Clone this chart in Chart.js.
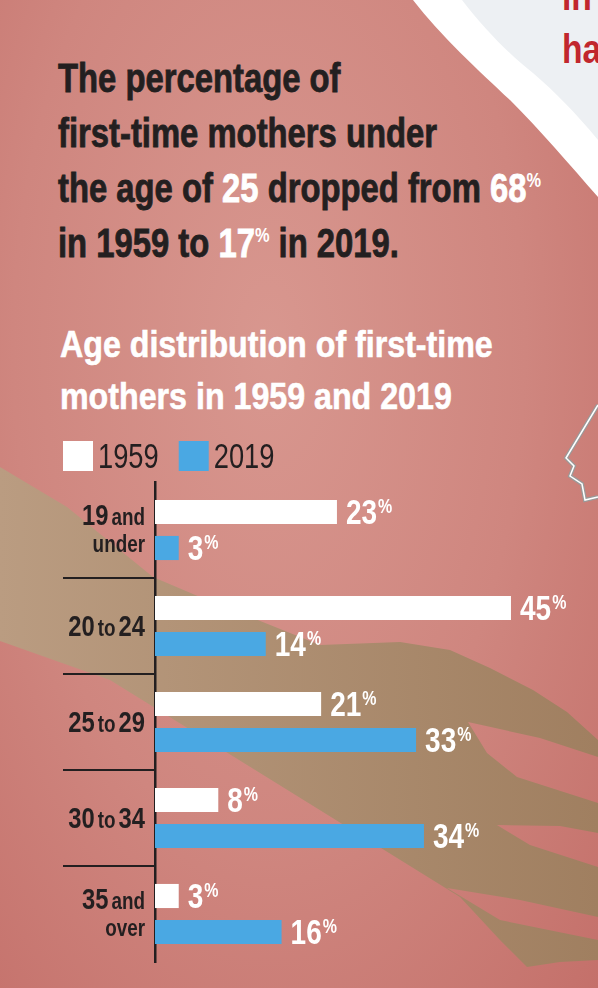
<!DOCTYPE html>
<html>
<head>
<meta charset="utf-8">
<script src="https://cdn.jsdelivr.net/npm/chart.js@4.4.1/dist/chart.umd.min.js"></script>
<style>
  html, body { margin: 0; padding: 0; }
  body {
    width: 598px; height: 988px; overflow: hidden; position: relative;
    font-family: "Liberation Sans", Arial, sans-serif;
    background: radial-gradient(ellipse at 45% 35%, #d8978f 0%, #cf867f 55%, #c4706a 100%);
  }
  #bg { position: absolute; left: 0; top: 0; }
  .narrow { transform-origin: 0 0; white-space: nowrap; }
  .headline {
    position: absolute; left: 58px; top: 51px; margin: 0;
    font-size: 40px; line-height: 55px; font-weight: bold; color: #231f20;
    -webkit-text-stroke: 0.8px #231f20;
    transform: scaleX(0.82);
  }
  .subtitle {
    position: absolute; left: 60px; top: 319px; margin: 0;
    font-size: 37px; line-height: 52px; font-weight: bold; color: #fff;
    -webkit-text-stroke: 0.6px #fff;
    transform: scaleX(0.87);
  }
  .hl { color: #fff; -webkit-text-stroke: 0.8px #fff; }
  .pct { font-size: 20px; line-height: 0; position: relative; top: -15px; -webkit-text-stroke: 0; }
  .corner {
    position: absolute; left: 562px; top: -30px; margin: 0;
    font-size: 41px; line-height: 53px; font-weight: bold; color: #c1272d;
    transform: scaleX(0.82);
  }
  #wrap { position: absolute; left: 0; top: 423px; width: 598px; height: 565px; }
</style>
</head>
<body>
<svg id="bg" width="598" height="988" viewBox="0 0 598 988">
  <defs>
    <linearGradient id="skin" x1="0" y1="0" x2="1" y2="0">
      <stop offset="0" stop-color="#ba9c81"/>
      <stop offset="1" stop-color="#a07f60"/>
    </linearGradient>
  </defs>
  <path fill="url(#skin)" d="M0,467 L67,507 L153,577 L200,597 L320,645 L400,642 L450,650 L490,668 L533,690 L567,712 L598,740
    L598,757 L540,738 L468,722 L487,753 L517,777 L598,803
    L598,833 L560,826 L497,825 L530,845 L598,867
    L598,917 L520,900 L447,888 L500,920 L598,940
    L598,960 L560,962 L527,967 L500,940 L460,897 L110,680 L0,641 Z"/>
  <path fill="#ffffff" d="M413,0 C440,35 480,72 510,100 C540,130 570,165 598,197 L598,0 Z"/>
  <path fill="#edf0f3" d="M462,0 C485,30 510,55 533,73 C555,92 575,112 598,140 L598,0 Z"/>
  <polyline fill="none" stroke="#9a9a9a" stroke-width="4" points="598,405 566,458 574,466 570,476 582,484 585,500 598,497"/>
  <polyline fill="none" stroke="#ffffff" stroke-width="1.5" points="598,405 566,458 574,466 570,476 582,484 585,500 598,497"/>
</svg>

<p class="corner narrow">in<br>ha</p>

<p class="headline narrow">The percentage of<br>first-time mothers under<br>the age of <span class="hl">25</span> dropped from <span class="hl">68<span class="pct">%</span></span><br>in 1959 to <span class="hl">17<span class="pct">%</span></span> in 2019.</p>

<p class="subtitle narrow">Age distribution of first-time<br>mothers in 1959 and 2019</p>

<div id="wrap"><canvas id="chartAges" width="598" height="565"></canvas></div>

<script>
const categories = ["19 and under", "20 to 24", "25 to 29", "30 to 34", "35 and over"];
const seriesYears = ["1959", "2019"];
const values1959 = [23, 45, 21, 8, 3];
const values2019 = [3, 14, 33, 34, 16];

const INK = "#231f20";
const WHITE = "#ffffff";
const BLUE = "#4aa8e3";
const FONT = '"Liberation Sans", Arial, sans-serif';
const SQUEEZE = 0.82; // fake a condensed face, none is installed

// "19 and under" -> [["19", "and"], ["under"]], "20 to 24" -> [["20", "to", "24"]]
function splitLabel(label) {
  const words = label.split(" ");
  if (words[1] === "and") return [words.slice(0, 2), words.slice(2)];
  return [words];
}

function narrowWidth(ctx, text, sx) {
  return ctx.measureText(text).width * sx;
}

function fillNarrow(ctx, text, x, y, sx) {
  ctx.save();
  ctx.translate(x, y);
  ctx.scale(sx, 1);
  ctx.fillText(text, 0, 0);
  ctx.restore();
}

function drawRuns(ctx, runs, right, baseline) {
  const fonts = runs.map((w) => /^\d+$/.test(w) ? "bold 29px " + FONT : "bold 23px " + FONT);
  const gap = 3;
  let total = 0;
  runs.forEach((w, i) => {
    ctx.font = fonts[i];
    total += narrowWidth(ctx, w, SQUEEZE) + (i ? gap : 0);
  });
  let x = right - total;
  runs.forEach((w, i) => {
    ctx.font = fonts[i];
    fillNarrow(ctx, w, x, baseline, SQUEEZE);
    x += narrowWidth(ctx, w, SQUEEZE) + gap;
  });
}

function drawPercent(ctx, value, x, baseline) {
  const text = String(value);
  ctx.font = "bold 35px " + FONT;
  fillNarrow(ctx, text, x, baseline, 0.8);
  const w = narrowWidth(ctx, text, 0.8);
  ctx.font = "bold 20px " + FONT;
  fillNarrow(ctx, "%", x + w + 1, baseline - 11, 0.8);
}

const annotate = {
  id: "annotate",
  afterDraw(chart) {
    const { ctx, chartArea, scales: { y } } = chart;
    ctx.save();
    ctx.textAlign = "left";
    ctx.textBaseline = "alphabetic";

    // legend: one square and year per dataset
    let lx = 63;
    chart.data.datasets.forEach((ds) => {
      ctx.fillStyle = ds.backgroundColor;
      ctx.fillRect(lx, chartArea.top - 41, 30, 30);
      ctx.fillStyle = INK;
      ctx.font = "35px " + FONT;
      fillNarrow(ctx, ds.label, lx + 35, chartArea.top - 14, 0.78);
      lx += 35 + narrowWidth(ctx, ds.label, 0.78) + 20;
    });

    // separators between the age groups
    ctx.strokeStyle = INK;
    ctx.lineWidth = 2;
    for (let i = 0; i < categories.length - 1; i++) {
      const yy = (y.getPixelForValue(i) + y.getPixelForValue(i + 1)) / 2;
      ctx.beginPath();
      ctx.moveTo(63, yy);
      ctx.lineTo(chartArea.left, yy);
      ctx.stroke();
    }

    // age group labels
    ctx.fillStyle = INK;
    categories.forEach((label, i) => {
      const cy = y.getPixelForValue(i);
      const lines = splitLabel(label);
      if (lines.length === 2) {
        drawRuns(ctx, lines[0], chartArea.left - 10, cy - 5);
        drawRuns(ctx, lines[1], chartArea.left - 10, cy + 22);
      } else {
        drawRuns(ctx, lines[0], chartArea.left - 10, cy + 10);
      }
    });

    // value labels
    ctx.fillStyle = WHITE;
    chart.data.datasets.forEach((ds, di) => {
      chart.getDatasetMeta(di).data.forEach((bar, i) => {
        drawPercent(ctx, ds.data[i], bar.x + 9, bar.y + 12);
      });
    });

    ctx.restore();
  }
};

new Chart(document.getElementById("chartAges"), {
  type: "bar",
  data: {
    labels: categories,
    datasets: [
      { label: seriesYears[0], data: values1959, backgroundColor: WHITE, borderWidth: 0 },
      { label: seriesYears[1], data: values2019, backgroundColor: BLUE, borderWidth: 0 }
    ]
  },
  options: {
    indexAxis: "y",
    responsive: false,
    animation: false,
    categoryPercentage: 0.75,
    barPercentage: 0.67,
    layout: { padding: { left: 45, right: 0, top: 59, bottom: 26 } },
    scales: {
      x: { min: 0, max: 56, display: false },
      y: {
        grid: { display: false },
        border: { display: true, color: INK, width: 2.5 },
        ticks: { display: false },
        afterFit(scale) { scale.width = 110; }
      }
    },
    plugins: {
      legend: { display: false },
      title: { display: false },
      tooltip: { enabled: false }
    }
  },
  plugins: [annotate]
});
</script>
</body>
</html>
